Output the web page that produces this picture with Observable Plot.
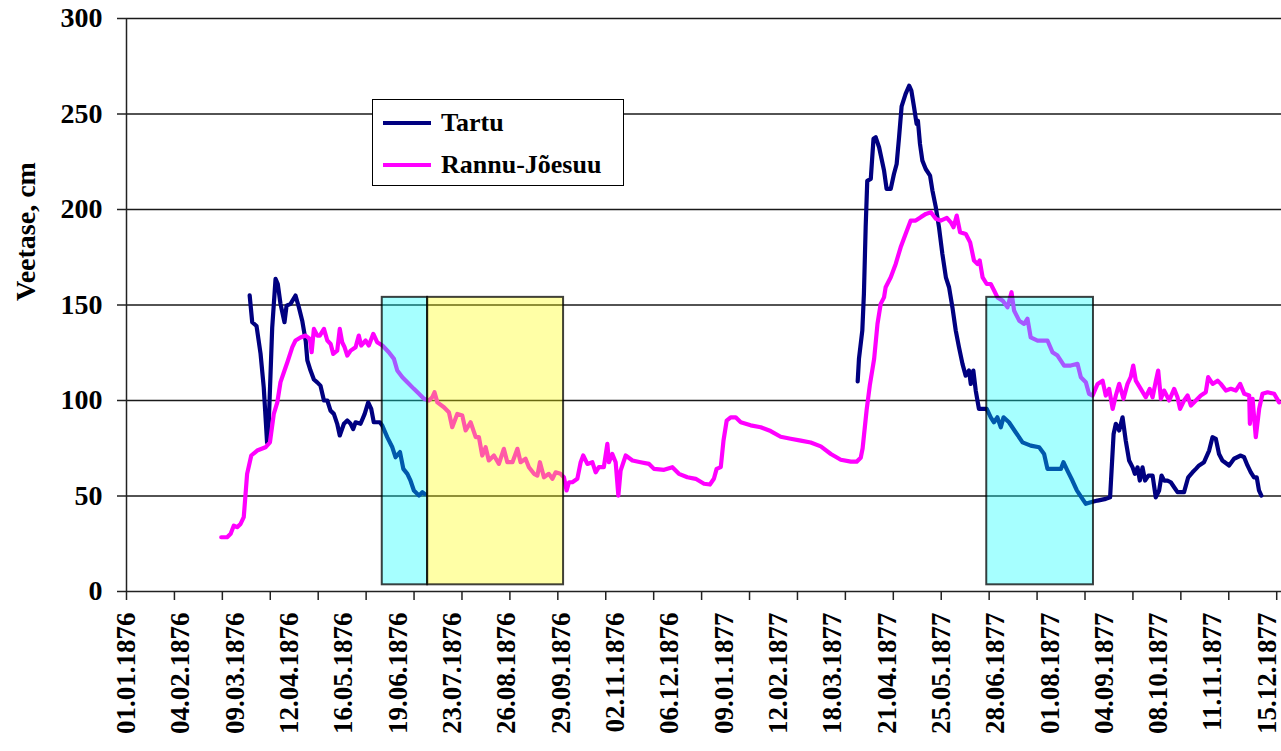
<!DOCTYPE html>
<html><head><meta charset="utf-8">
<script src="https://cdn.jsdelivr.net/npm/d3@7"></script>
<script src="https://cdn.jsdelivr.net/npm/@observablehq/plot@0.6"></script>
<style>
html,body{margin:0;padding:0;background:#fff;}
#wrap{position:relative;width:1281px;height:751px;}
.legend{position:absolute;left:372px;top:99px;width:252px;height:87px;border:1px solid #000;background:#fff;box-sizing:border-box;font-family:"Liberation Serif",Tinos,"Times New Roman","DejaVu Serif","Noto Serif",serif;font-weight:bold;font-size:26px;color:#000;}
.row{position:absolute;left:0;height:30px;display:flex;align-items:center;}
.sw{width:48px;height:4px;margin-left:10px;margin-right:10px;}
</style></head>
<body><div id="wrap"></div>
<script>
const startMs = Date.UTC(1876, 0, 1);
const toDate = d => new Date(startMs + d * 864e5);

// Tartu: days since 01.01.1876 and level (cm); null = gap in record
const tartuDay = [77.1,78.7,81.4,83.9,85.9,88.0,89.1,91.2,93.3,94.7,96.4,98.9,100.2,102.7,105.8,107.9,110.0,112.2,113.2,115.2,117.3,119.4,121.4,123.6,125.7,127.7,129.8,131.9,133.5,136.1,138.2,140.3,141.9,143.4,146.5,149.1,151.3,153.2,154.8,158.6,160.1,163.2,166.4,168.4,171.2,173.3,175.8,177.8,179.9,183.1,185.2,186.6,300,
457.7,458.5,460.6,461.6,462.7,463.7,465.9,467.6,469.0,471.1,474.2,475.8,478.4,480.4,482.1,483.6,485.2,487.7,489.9,491.3,493.0,494.6,495.4,496.7,498.2,500.3,503.0,504.5,506.6,508.6,510.7,512.9,514.9,517.0,519.1,521.1,523.3,525.3,527.4,528.5,530.1,531.6,533.6,538.5,541.0,543.0,545.1,547.3,549.0,552.4,556.6,560.9,566.0,571.3,574.4,576.5,584.9,586.5,589.0,592.1,594.9,598.4,600.5,603.6,607.8,613.0,615.7,617.9,619.3,621.4,623.5,625.5,627.6,629.8,631.2,632.9,634.3,636.0,637.6,639.7,642.3,644.3,646.4,647.9,649.5,651.6,653.7,655.8,657.9,662.0,664.6,667.3,669.4,671.4,674.5,677.7,679.8,681.9,683.9,686.0,690.2,693.3,697.5,699.6,701.7,703.8,705.8,707.5,708.9,710.4];
const tartuLevel = [155,141,139,124.6,107,78,89.5,138,163.7,161,150.6,141,149.7,150.6,155,148.8,141.8,131,121,115.7,111,109.5,107.8,100,100,94.7,93,87.8,81.7,87.8,89.5,87.8,85,88.6,87.8,93,99,95.6,88.6,88.6,86.9,80.8,75.5,70.3,73,64.2,61.6,58,52.9,50.2,52,51.1,null,
110,121.8,136.6,155.8,190.7,215,216,237,237.8,232.6,220.4,210.8,210.8,218.6,223.8,237.8,254,260.5,264.8,262.2,253.5,244.8,246.5,234.3,225.6,221.2,217.7,209.9,201.2,190.7,176.8,164.5,159.3,148.8,136.6,127.9,119.2,113,115.7,108.7,115.7,105.2,95.6,95.6,91.2,88.6,91.2,86,91.2,88.6,83.4,78.1,76.4,75.5,72,64.2,64.2,67.7,63.3,58.1,52.9,48.5,45.9,46.7,47.6,48.5,49.3,82.5,87.8,84.3,91.2,79,68.6,65,61.6,65,58.1,65,58.1,60.7,60.7,49.3,52.9,60.7,58.1,58.1,57.2,54.6,52,52,59.8,62.4,64.2,66,67.7,73.8,80.8,79.9,72,68.6,66,69.5,71.2,70.3,66,62.4,59.8,59.8,52.9,50.2];

// Rannu-Jõesuu
const rannuDay = [59.3,63.0,65.2,67.2,69.3,71.4,73.4,75.5,78.1,81.8,87.0,89.8,92.2,94.4,96.4,98.9,100.7,103.8,105.8,108.9,112.1,114.8,115.9,117.3,119.4,121.0,123.6,125.7,127.8,129.4,131.9,133.5,135.0,136.5,138.2,140.3,143.4,145.4,146.9,149.7,151.7,154.5,156.9,160.2,164.2,167.4,169.5,172.7,175.8,179.9,183.1,186.2,189.3,191.4,192.8,194.6,198.7,201.8,203.9,207.1,210.2,212.3,215.4,218.6,220.6,222.7,224.8,226.8,230.0,233.1,236.2,238.4,241.6,244.7,246.7,249.8,251.9,255.1,257.2,258.8,261.3,264.4,266.6,268.6,271.7,273.8,275.5,277.0,279.1,282.2,284.3,285.9,288.5,291.6,293.7,295.7,298.8,301.0,302.0,304.1,306.2,307.9,309.3,312.5,316.7,321.8,327.1,330.2,336.5,341.7,345.8,351.1,356.3,361.5,365.2,367.7,369.4,372.0,373.7,375.7,378.2,381.3,384.5,390.7,397.0,403.2,409.5,415.7,422.1,428.3,434.6,440.9,447.1,453.4,457.1,459.6,460.8,463.3,465.3,468.0,470.1,472.1,474.2,475.2,478.4,481.5,484.6,487.7,490.9,494.0,497.2,500.4,503.5,506.6,509.7,513.5,516.0,517.7,519.7,521.8,525.4,528.1,530.5,532.7,534.1,535.9,538.5,541.0,543.1,545.2,548.4,551.5,554.0,555.6,558.8,561.9,564.0,566.0,570.3,576.5,579.6,582.8,586.9,591.1,595.3,597.4,600.5,602.5,604.7,607.9,611.0,613.0,615.1,617.3,619.3,621.4,624.1,626.6,628.6,630.2,631.8,634.9,638.0,640.5,642.3,644.4,645.8,647.5,649.5,652.7,655.8,657.9,659.5,662.0,664.2,666.3,669.4,672.5,675.6,677.1,679.9,683.0,685.0,688.2,691.3,694.4,697.1,699.7,702.8,703.2,704.9,706.9,709.0,711.1,714.3,718.4,721.5];
const rannuLevel = [28.4,28.4,30.2,34.5,33.7,35.4,38.9,61.6,71.2,73.8,75.5,78.1,93,99,109.6,115.7,120,127.9,131.4,133,134,132.3,125.3,137.5,134,134,137.5,131.4,129.6,124.4,126.1,137.5,130.5,127.9,123.5,126.1,127.9,134,128.8,131.4,128.8,134.9,130.5,128.8,125.3,121.8,115.7,112.2,109.6,106.1,103.5,100.9,100,101.7,104.3,99,96.5,93.9,86,93,92.1,84.3,88.6,80.8,80.8,71.2,75.5,68.6,71.2,66.8,74.7,67.7,67.7,74.7,67.7,69.5,65.1,61.6,60.7,67.7,59.8,61.6,59,62.4,61.6,59.8,52.9,57.2,57.2,59,67.7,71.2,66.8,67.7,62.4,65.1,65.1,77.3,67.7,72,67.7,50.2,63.3,71.2,68.6,67.7,66.8,64.2,63.7,65.1,61.6,59.8,59,56.4,56,59,64.2,65.1,79,89.5,91.2,91.2,88.6,87,86,84,81,80,79,78,76,72,69,68,68,70,75,95,108,121.8,140.1,150.6,154,159.3,164.5,171.5,180.2,187.2,194.2,194.2,196,197.7,198.6,195.1,194.2,195.6,193.3,190.7,196.8,188.1,187.2,182.8,173.3,171.5,173.3,164.5,161,161,157.6,154,152.3,148.8,156.7,147.1,141.8,140.1,142.8,133.1,131.4,131.4,125.3,123.5,118.3,118.3,119.2,112.2,109.6,103.5,102.6,108.7,110.4,102.6,106.1,95.6,102.6,108.7,100.9,108.7,112.2,118.3,110.4,106.1,101.7,106.1,101.7,110.4,115.7,100.9,105.2,100,106.1,101.7,95.6,100,102.6,97.4,100,102.6,104.3,112.2,108.7,110.4,108.7,105.2,106.1,105.2,108.7,103.5,102.6,87.8,100.9,80.8,95.6,103.5,104.3,103.5,99];

// highlighted periods (days since 01.01.1876)
const zoneStart = [160.1, 188.5, 538.5];
const zoneEnd = [188.5, 273.6, 605.3];
const zoneColor = ["#00ffff", "#ffff00", "#00ffff"];
const zoneLow = 3.5, zoneHigh = 154;

const yTicks = [0, 50, 100, 150, 200, 250, 300];
const labelDates = ["1876-01-01","1876-02-04","1876-03-09","1876-04-12","1876-05-16","1876-06-19","1876-07-23","1876-08-26","1876-09-29","1876-11-02","1876-12-06","1877-01-09","1877-02-12","1877-03-18","1877-04-21","1877-05-25","1877-06-28","1877-08-01","1877-09-04","1877-10-08","1877-11-11","1877-12-15"];
const tickStepDays = 30, tickCount = 24;

const tartu = tartuDay.map((d, i) => ({date: toDate(d), level: tartuLevel[i]}));
const rannu = rannuDay.map((d, i) => ({date: toDate(d), level: rannuLevel[i]}));
const zones = zoneStart.map((s, i) => ({start: toDate(s), end: toDate(zoneEnd[i]), low: zoneLow, high: zoneHigh, color: zoneColor[i]}));
const tickDates = d3.range(tickCount + 1).map(k => toDate(k * tickStepDays));
const labels = labelDates.map(s => new Date(s + "T00:00:00Z"));
const fmt = d3.utcFormat("%d.%m.%Y");
const FONT = '"Liberation Serif",Tinos,"Times New Roman","DejaVu Serif","Noto Serif",serif';

const chart = Plot.plot({
  width: 1281, height: 751,
  marginLeft: 126, marginRight: 0, marginTop: 18, marginBottom: 160,
  x: {type: "utc", domain: [toDate(0), toDate(723)]},
  y: {domain: [0, 300]},
  color: {type: "identity"},
  style: {fontFamily: FONT, fontWeight: "bold", fontSize: "28px", color: "#000", background: "#fff", overflow: "visible"},
  marks: [
    Plot.ruleY(yTicks.filter(d => d > 0), {stroke: "#1a1a1a", strokeWidth: 1.3}),
    Plot.line(tartu, {x: "date", y: "level", stroke: "#000080", strokeWidth: 4.2, strokeLinejoin: "round", strokeLinecap: "round"}),
    Plot.line(rannu, {x: "date", y: "level", stroke: "#ff00ff", strokeWidth: 4.2, strokeLinejoin: "round", strokeLinecap: "round"}),
    Plot.rect(zones, {x1: "start", x2: "end", y1: "low", y2: "high", fill: "color", fillOpacity: 0.35, stroke: "#000", strokeWidth: 2, strokeOpacity: 0.75}),
    Plot.ruleX([toDate(0)], {stroke: "#222", strokeWidth: 1.5}),
    Plot.ruleY([0], {stroke: "#222", strokeWidth: 1.5}),
    Plot.axisY(yTicks, {tickSize: 9, tickPadding: 15, label: null, stroke: "#222", strokeWidth: 1.5, fontSize: 28}),
    Plot.axisX(tickDates, {tickSize: 9, tickFormat: () => "", label: null, stroke: "#222", strokeWidth: 1.5}),
    Plot.axisX(labels, {tickSize: 0, tickRotate: -90, tickPadding: 21, tickFormat: fmt, label: null, fontSize: 27}),
    Plot.text(["Veetase, cm"], {frameAnchor: "left", rotate: -90, dx: -100, dy: -4, fontSize: 28, fontWeight: "bold", fill: "#000"})
  ]
});

const wrap = document.getElementById("wrap");
wrap.appendChild(chart);
const legend = document.createElement("div");
legend.className = "legend";
const items = [["Tartu", "#000080", 8], ["Rannu-Jõesuu", "#ff00ff", 50]];
for (const [name, color, top] of items) {
  const row = document.createElement("div");
  row.className = "row";
  row.style.top = top + "px";
  const sw = document.createElement("div");
  sw.className = "sw";
  sw.style.background = color;
  const t = document.createElement("span");
  t.textContent = name;
  row.appendChild(sw); row.appendChild(t);
  legend.appendChild(row);
}
wrap.appendChild(legend);
</script>
</body></html>
